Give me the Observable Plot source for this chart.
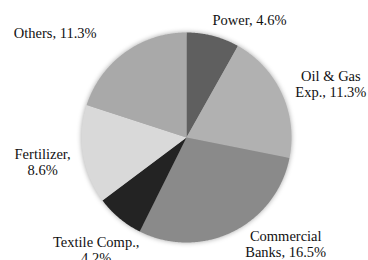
<!DOCTYPE html>
<html>
<head>
<meta charset="utf-8">
<script src="https://cdn.jsdelivr.net/npm/d3@7"></script>
<script src="https://cdn.jsdelivr.net/npm/@observablehq/plot@0.6"></script>
<style>
  html, body { margin: 0; padding: 0; background: #fff; }
  #chart svg { display: block; }
  #chart svg text { font-family: "Liberation Serif", Tinos, "DejaVu Serif", serif !important; }
</style>
</head>
<body>
<div id="chart"></div>
<script>
// ---- data ----
const categories = ["Power", "Oil & Gas Exp.", "Commercial Banks", "Textile Comp.", "Fertilizer", "Others"];
const shares = [4.6, 11.3, 16.5, 4.2, 8.6, 11.3];
const labels = ["Power, 4.6%", "Oil & Gas\nExp., 11.3%", "Commercial\nBanks, 16.5%", "Textile Comp.,\n4.2%", "Fertilizer,\n8.6%", "Others, 11.3%"];

// ---- style / layout ----
const sliceColors = ["#5f5f5f", "#b1b1b1", "#8a8a8a", "#232323", "#d9d9d9", "#a9a9a9"];
// label anchor positions, in units of the pie radius (x right, y up)
const labelAt = [[0.60, 1.125], [1.375, 0.51], [0.945, -1.015], [-0.86, -1.07], [-1.37, -0.23], [-1.25, 0.995]];

const slices = d3.pie().sort(null).value(d => d.value)(
  categories.map((c, i) => ({name: c, value: shares[i]}))
);

// outline of every slice: the centre, then its arc (geometry only)
const outline = [];
for (const s of slices) {
  outline.push({name: s.data.name, x: 0, y: 0});
  const n = Math.max(2, Math.ceil((s.endAngle - s.startAngle) / (Math.PI / 360)));
  for (let k = 0; k <= n; k++) {
    const a = s.startAngle + (s.endAngle - s.startAngle) * k / n;
    outline.push({name: s.data.name, x: Math.sin(a), y: Math.cos(a)});
  }
}

const labelData = labels.map((t, i) => ({text: t, x: labelAt[i][0], y: labelAt[i][1]}));

const plot = Plot.plot({
  width: 368,
  height: 260,
  margin: 0,
  x: {domain: [-1, 1], range: [81, 291], axis: null},
  y: {domain: [-1, 1], range: [242, 32], axis: null},
  color: {type: "ordinal", domain: categories, range: sliceColors},
  style: {background: "#fff", overflow: "visible"},
  marks: [
    Plot.line(outline, {x: "x", y: "y", z: "name", fill: "name", stroke: "none", curve: "linear"}),
    Plot.text(labelData, {
      x: "x", y: "y", text: "text",
      fontFamily: "Liberation Serif", fontSize: 14.5, lineHeight: 1.13,
      fill: "#111"
    })
  ]
});

d3.select(plot).selectAll("g[aria-label='line']")
  .style("filter", "drop-shadow(0px 0px 2.5px rgba(0,0,0,0.35))");

document.getElementById("chart").appendChild(plot);
</script>
</body>
</html>
